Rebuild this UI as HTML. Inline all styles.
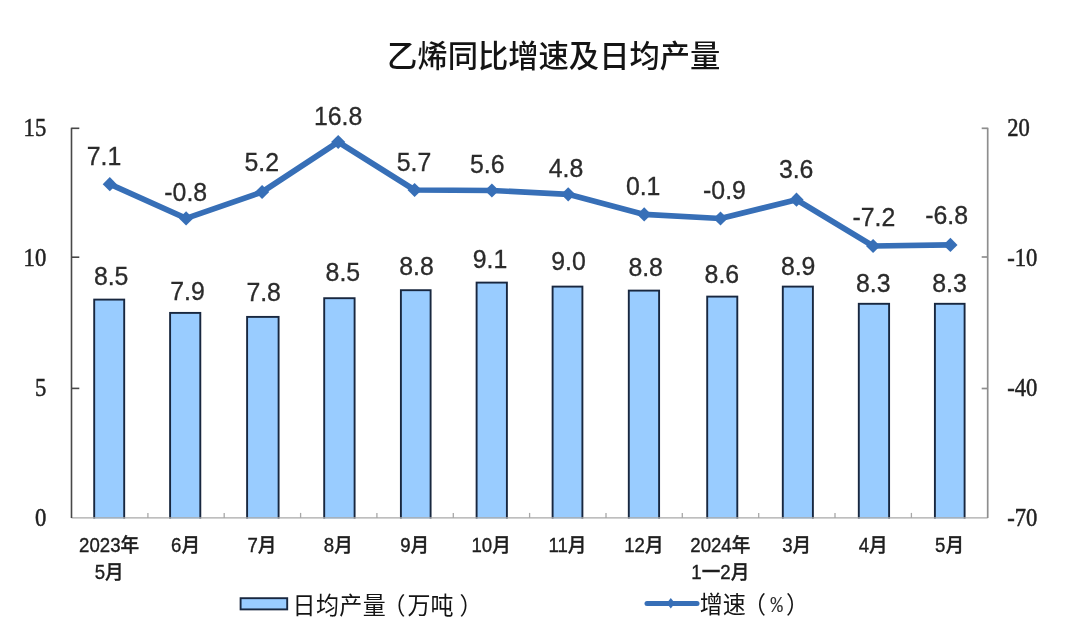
<!DOCTYPE html>
<html lang="zh-CN">
<head>
<meta charset="utf-8">
<title>乙烯同比增速及日均产量</title>
<style>
html,body{margin:0;padding:0;background:#fff;}
body{width:1080px;height:637px;overflow:hidden;position:relative;}
svg{display:block;position:absolute;left:0;top:0;filter:blur(0.5px);}
.title{font-family:"Liberation Sans","Noto Sans CJK SC",sans-serif;font-size:30.3px;fill:#141414;font-weight:500;}
.ax{font-family:"Liberation Serif","Noto Serif CJK SC",serif;font-size:22.6px;fill:#222;stroke:#222;stroke-width:0.45;}
.dl{font-family:"Liberation Sans","Noto Sans CJK SC",sans-serif;font-size:24.5px;fill:#2b2b2b;stroke:#2b2b2b;stroke-width:0.3;}
.cat{font-family:"Liberation Sans","Noto Sans CJK SC",sans-serif;font-size:18.6px;fill:#1e1e1e;font-weight:500;stroke:#1e1e1e;stroke-width:0.35;}
.lg{font-family:"Liberation Sans","Noto Sans CJK SC",sans-serif;font-size:23px;fill:#141414;}
</style>
</head>
<body>
<svg width="1080" height="637" viewBox="0 0 1080 637">
<rect x="0" y="0" width="1080" height="637" fill="#ffffff"/>
<text class="title" x="553.7" y="67.0" text-anchor="middle">乙烯同比增速及日均产量</text>
<g fill="#99ccff" stroke="#18273f" stroke-width="1.9">
<rect x="94.2" y="299.6" width="30.0" height="221.2"/>
<rect x="170.1" y="312.9" width="30.2" height="207.9"/>
<rect x="247.1" y="316.9" width="31.5" height="203.9"/>
<rect x="324.2" y="298.2" width="30.4" height="222.6"/>
<rect x="400.9" y="290.2" width="29.7" height="230.6"/>
<rect x="476.6" y="282.6" width="30.3" height="238.3"/>
<rect x="552.6" y="286.6" width="29.8" height="234.3"/>
<rect x="628.8" y="290.6" width="30.3" height="230.3"/>
<rect x="707.2" y="296.6" width="30.1" height="224.3"/>
<rect x="782.8" y="286.6" width="30.1" height="234.3"/>
<rect x="858.8" y="303.8" width="30.3" height="217.1"/>
<rect x="934.9" y="303.8" width="29.7" height="217.1"/>
</g>
<rect x="60" y="518.5" width="940" height="6" fill="#fff"/>
<g stroke="#a8a8a8" stroke-width="1.3" fill="none">
<line x1="71.5" y1="517.9" x2="987.7" y2="517.9"/>
<line x1="147.9" y1="517.9" x2="147.9" y2="512.9"/>
<line x1="224.2" y1="517.9" x2="224.2" y2="512.9"/>
<line x1="300.6" y1="517.9" x2="300.6" y2="512.9"/>
<line x1="376.9" y1="517.9" x2="376.9" y2="512.9"/>
<line x1="453.3" y1="517.9" x2="453.3" y2="512.9"/>
<line x1="529.6" y1="517.9" x2="529.6" y2="512.9"/>
<line x1="606.0" y1="517.9" x2="606.0" y2="512.9"/>
<line x1="682.3" y1="517.9" x2="682.3" y2="512.9"/>
<line x1="758.7" y1="517.9" x2="758.7" y2="512.9"/>
<line x1="835.0" y1="517.9" x2="835.0" y2="512.9"/>
<line x1="911.4" y1="517.9" x2="911.4" y2="512.9"/>
</g>
<g stroke="#484848" stroke-width="1.6" fill="none">
<line x1="71.5" y1="127.69999999999999" x2="71.5" y2="517.9"/>
<line x1="71.5" y1="388.4" x2="79.3" y2="388.4"/>
<line x1="71.5" y1="257.2" x2="79.3" y2="257.2"/>
<line x1="71.5" y1="128.3" x2="79.3" y2="128.3"/>
</g>
<g stroke="#8e8e8e" stroke-width="1.7" fill="none">
<line x1="987.7" y1="127.69999999999999" x2="987.7" y2="517.9"/>
<line x1="987.7" y1="388.5" x2="981.7" y2="388.5"/>
<line x1="987.7" y1="257.0" x2="981.7" y2="257.0"/>
<line x1="987.7" y1="128.3" x2="981.7" y2="128.3"/>
</g>
<text class="ax" transform="translate(46.2 526.1) scale(1 1.08)" text-anchor="end">0</text>
<text class="ax" transform="translate(46.2 395.9) scale(1 1.08)" text-anchor="end">5</text>
<text class="ax" transform="translate(46.2 265.9) scale(1 1.08)" text-anchor="end">10</text>
<text class="ax" transform="translate(46.2 136.4) scale(1 1.08)" text-anchor="end">15</text>
<text class="ax" transform="translate(1007.3 526.1) scale(1 1.08)" text-anchor="start">-70</text>
<text class="ax" transform="translate(1007.3 395.6) scale(1 1.08)" text-anchor="start">-40</text>
<text class="ax" transform="translate(1007.3 265.9) scale(1 1.08)" text-anchor="start">-10</text>
<text class="ax" transform="translate(1007.3 136.4) scale(1 1.08)" text-anchor="start">20</text>
<polyline points="109.8,184.2 186.1,218.4 262.1,192.0 338.2,142.0 414.6,190.0 491.9,190.5 568.2,194.3 644.2,214.4 720.5,218.5 796.5,199.7 873.1,246.0 950.4,244.9" fill="none" stroke="#376fb7" stroke-width="5.7" stroke-linejoin="round" stroke-linecap="round"/>
<g fill="#376fb7">
<path d="M109.8 177.1L116.8 184.2L109.8 191.3L102.7 184.2Z"/>
<path d="M186.1 211.3L193.2 218.4L186.1 225.5L179.0 218.4Z"/>
<path d="M262.1 184.9L269.2 192.0L262.1 199.1L255.0 192.0Z"/>
<path d="M338.2 134.9L345.3 142.0L338.2 149.1L331.1 142.0Z"/>
<path d="M414.6 182.9L421.8 190.0L414.6 197.1L407.5 190.0Z"/>
<path d="M491.9 183.4L499.0 190.5L491.9 197.6L484.8 190.5Z"/>
<path d="M568.2 187.2L575.3 194.3L568.2 201.4L561.1 194.3Z"/>
<path d="M644.2 207.3L651.3 214.4L644.2 221.5L637.1 214.4Z"/>
<path d="M720.5 211.4L727.6 218.5L720.5 225.6L713.4 218.5Z"/>
<path d="M796.5 192.6L803.6 199.7L796.5 206.8L789.4 199.7Z"/>
<path d="M873.1 238.9L880.2 246.0L873.1 253.1L866.0 246.0Z"/>
<path d="M950.4 237.8L957.5 244.9L950.4 252.0L943.2 244.9Z"/>
</g>
<text class="dl" transform="translate(86.7 165.1) scale(1.015 1.085)">7.1</text>
<text class="dl" transform="translate(164.3 201.4) scale(1.015 1.085)">-0.8</text>
<text class="dl" transform="translate(244.5 170.9) scale(1.015 1.085)">5.2</text>
<text class="dl" transform="translate(313.9 124.8) scale(1.015 1.085)">16.8</text>
<text class="dl" transform="translate(396.7 170.9) scale(1.015 1.085)">5.7</text>
<text class="dl" transform="translate(470.0 172.5) scale(1.015 1.085)">5.6</text>
<text class="dl" transform="translate(548.7 176.9) scale(1.015 1.085)">4.8</text>
<text class="dl" transform="translate(625.9 195.4) scale(1.015 1.085)">0.1</text>
<text class="dl" transform="translate(703.1 199.1) scale(1.015 1.085)">-0.9</text>
<text class="dl" transform="translate(778.9 178.2) scale(1.015 1.085)">3.6</text>
<text class="dl" transform="translate(852.5 225.8) scale(1.015 1.085)">-7.2</text>
<text class="dl" transform="translate(925.2 224.2) scale(1.015 1.085)">-6.8</text>
<text class="dl" transform="translate(93.9 284.8) scale(1.015 1.085)">8.5</text>
<text class="dl" transform="translate(170.2 299.8) scale(1.015 1.085)">7.9</text>
<text class="dl" transform="translate(246.4 300.9) scale(1.015 1.085)">7.8</text>
<text class="dl" transform="translate(325.6 280.9) scale(1.015 1.085)">8.5</text>
<text class="dl" transform="translate(399.3 274.9) scale(1.015 1.085)">8.8</text>
<text class="dl" transform="translate(472.8 267.6) scale(1.015 1.085)">9.1</text>
<text class="dl" transform="translate(551.3 270.2) scale(1.015 1.085)">9.0</text>
<text class="dl" transform="translate(628.4 275.8) scale(1.015 1.085)">8.8</text>
<text class="dl" transform="translate(704.6 282.7) scale(1.015 1.085)">8.6</text>
<text class="dl" transform="translate(780.9 275.4) scale(1.015 1.085)">8.9</text>
<text class="dl" transform="translate(856.0 292.0) scale(1.015 1.085)">8.3</text>
<text class="dl" transform="translate(932.2 291.6) scale(1.015 1.085)">8.3</text>
<text class="cat" transform="translate(109.1 552.0) scale(1 1.05)" text-anchor="middle">2023年</text>
<text class="cat" transform="translate(109.1 578.7) scale(1 1.05)" text-anchor="middle">5月</text>
<text class="cat" transform="translate(185.5 552.0) scale(1 1.05)" text-anchor="middle">6月</text>
<text class="cat" transform="translate(261.9 552.0) scale(1 1.05)" text-anchor="middle">7月</text>
<text class="cat" transform="translate(338.3 552.0) scale(1 1.05)" text-anchor="middle">8月</text>
<text class="cat" transform="translate(414.7 552.0) scale(1 1.05)" text-anchor="middle">9月</text>
<text class="cat" transform="translate(491.1 552.0) scale(1 1.05)" text-anchor="middle">10月</text>
<text class="cat" transform="translate(567.5 552.0) scale(1 1.05)" text-anchor="middle">11月</text>
<text class="cat" transform="translate(643.9 552.0) scale(1 1.05)" text-anchor="middle">12月</text>
<text class="cat" transform="translate(720.3 552.0) scale(1 1.05)" text-anchor="middle">2024年</text>
<text class="cat" transform="translate(720.3 578.7) scale(1 1.05)" text-anchor="middle">1一2月</text>
<text class="cat" transform="translate(796.7 552.0) scale(1 1.05)" text-anchor="middle">3月</text>
<text class="cat" transform="translate(873.1 552.0) scale(1 1.05)" text-anchor="middle">4月</text>
<text class="cat" transform="translate(949.5 552.0) scale(1 1.05)" text-anchor="middle">5月</text>
<rect x="240.6" y="598.2" width="46.6" height="11.2" fill="#99ccff" stroke="#18273f" stroke-width="1.9"/>
<text class="lg" transform="translate(0 614.1) scale(1 1.04)"><tspan x="292.6" style="letter-spacing:0.4px">日均产量</tspan><tspan x="382.6">（</tspan><tspan x="407.6">万吨</tspan><tspan x="459.5">）</tspan></text>
<line x1="647" y1="603.6" x2="697" y2="603.6" stroke="#376fb7" stroke-width="5" stroke-linecap="round"/>
<path d="M670.8 597.9L674.9 603.2L670.8 608.5L666.7 603.2Z" fill="#376fb7"/>
<text class="lg" transform="translate(0 612.9) scale(1 1.04)"><tspan x="699.8">增速</tspan><tspan x="743">（</tspan><tspan x="770.6" dy="-1.2" style="font-family:'Liberation Mono',monospace;font-size:20.5px;fill:#333">%</tspan><tspan x="786.0" dy="1.2">）</tspan></text>
</svg>
</body>
</html>
